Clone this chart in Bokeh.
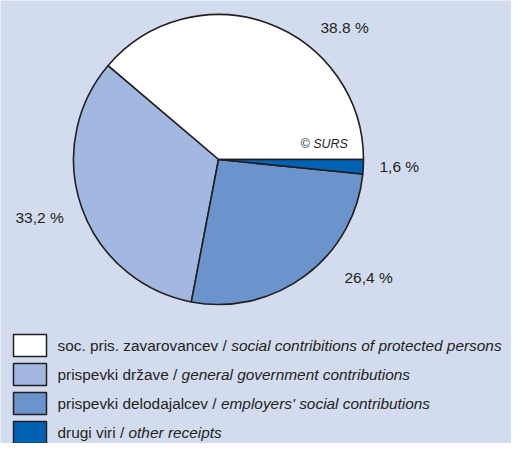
import numpy as np
from bokeh.plotting import figure
from bokeh.models import Range1d
from bokeh.core.properties import value
from bokeh.embed import file_html
from bokeh.resources import INLINE

# ---- data ----
shares = [38.8, 33.2, 26.4, 1.6]
pct_labels = ["38.8 %", "33,2 %", "26,4 %", "1,6 %"]
names_si = ["soc. pris. zavarovancev / ", "prispevki države / ",
            "prispevki delodajalcev / ", "drugi viri / "]
names_en = ["social contribitions of protected persons", "general government contributions",
            "employers' social contributions", "other receipts"]
colors = ["#ffffff", "#a3b8e0", "#6b93cc", "#0062b2"]

W, H = 511, 443
BG = "#d3dcef"
INK = "#231f20"
FONT = "Liberation Sans"
LEG_PX = 15.4

# Arial/Liberation Sans advance widths (per 1000 em) for placing the italic part
ADV = {" ": 278, "a": 556, "b": 556, "c": 500, "d": 556, "e": 556, "f": 278, "g": 556,
       "h": 556, "i": 222, "j": 222, "k": 500, "l": 222, "m": 833, "n": 556, "o": 556,
       "p": 556, "q": 556, "r": 333, "s": 500, "t": 278, "u": 556, "v": 500, "w": 722,
       "x": 500, "y": 500, "z": 500, "ž": 500, ".": 278, "/": 278, "'": 191, ",": 278}

def text_w(s, px):
    return sum(ADV.get(ch, 556) for ch in s) * px / 1000.0

p = figure(width=W, height=H, output_backend="svg", toolbar_location=None,
           x_range=Range1d(0, W), y_range=Range1d(0, H), min_border=0,
           background_fill_color=BG, border_fill_color=BG, outline_line_color=None)
p.axis.visible = False
p.grid.visible = False

def Y(y):  # screen-y (from top) to data-y
    return H - y

cx, cy, r = 218, Y(159), 145
fr = np.array(shares) / sum(shares)
ends = np.cumsum(fr) * 2 * np.pi
starts = ends - fr * 2 * np.pi
p.wedge(x=cx, y=cy, radius=r, start_angle=starts, end_angle=ends,
        fill_color=colors, line_color=INK, line_width=1.6)

# percentage labels
lx = [320, 15, 344, 379]
ly = [Y(27), Y(217), Y(277), Y(166)]
p.text(x=lx, y=ly, text=pct_labels, text_font=value(FONT), text_font_size="15.5px",
       text_color=INK, text_baseline="middle", text_align="left")
p.text(x=[300], y=[Y(143)], text=["© SURS"], text_font=value(FONT), text_font_size="12.5px",
       text_font_style="italic", text_color=INK, text_baseline="middle")

# legend
rows = [Y(345), Y(374), Y(403), Y(432)]
tx0 = 57
p.rect(x=[29.5] * 4, y=rows, width=33, height=22, fill_color=colors,
       line_color=INK, line_width=1.5)
p.text(x=[tx0] * 4, y=rows, text=names_si, text_font=value(FONT),
       text_font_size=f"{LEG_PX}px", text_color=INK, text_baseline="middle")
p.text(x=[tx0 + text_w(s, LEG_PX) for s in names_si], y=rows, text=names_en,
       text_font=value(FONT), text_font_size=f"{LEG_PX}px", text_font_style="italic",
       text_color=INK, text_baseline="middle")

open("out.html", "w").write(file_html(p, INLINE))
